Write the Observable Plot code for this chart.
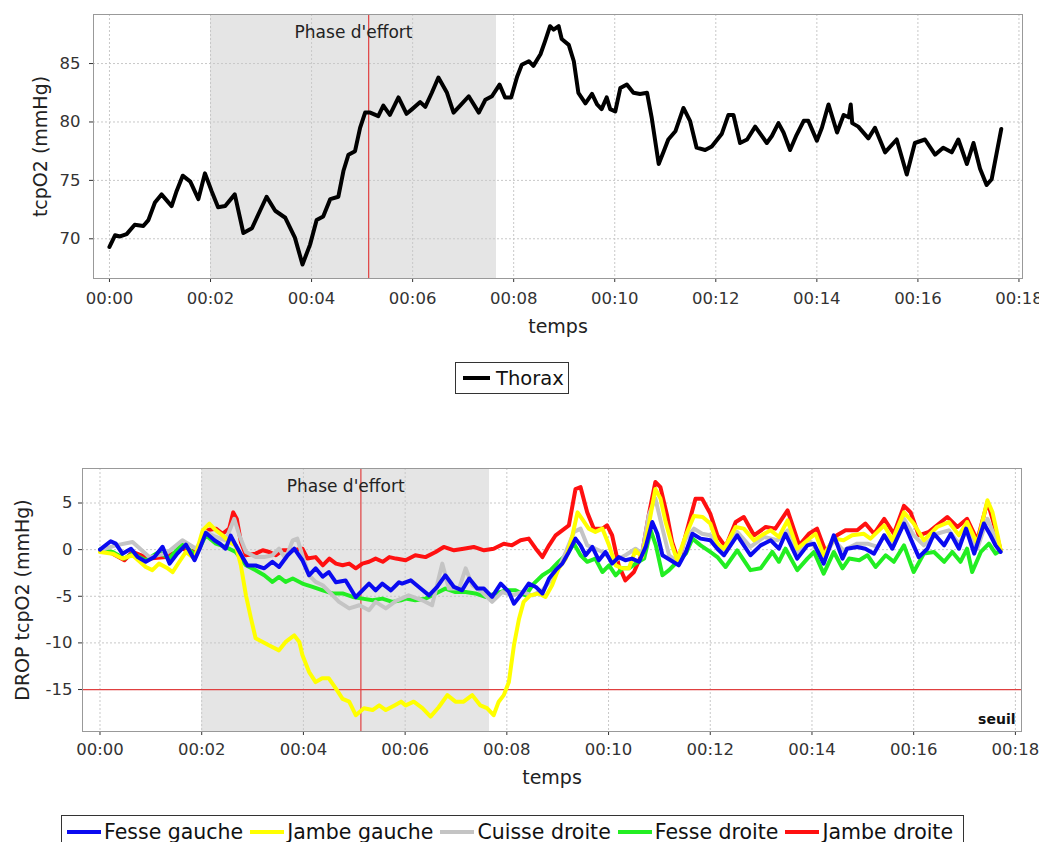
<!DOCTYPE html>
<html>
<head>
<meta charset="utf-8">
<script src="https://cdn.jsdelivr.net/npm/d3@7"></script>
<script src="https://cdn.jsdelivr.net/npm/@observablehq/plot@0.6"></script>
<style>
  html, body { margin: 0; padding: 0; background: #fff; }
  body { width: 1039px; height: 842px; position: relative; overflow: hidden; font-family: "DejaVu Sans", sans-serif; }
  .chart { position: absolute; left: 0; }
  .legend { position: absolute; box-sizing: border-box; border: 1px solid #333; background: #fff;
            display: flex; align-items: center; font-size: 20.5px; color: #111; white-space: nowrap; }
  .legend .item { display: flex; align-items: center; }
  .legend .swatch { display: inline-block; height: 4px; }
</style>
</head>
<body>
<div id="top" class="chart" style="top:0"></div>
<div id="legendTop" class="legend" style="left:455px; top:362px; width:114px; height:32px; padding-left:7px;"></div>
<div id="bottom" class="chart" style="top:455px"></div>
<div id="legendBottom" class="legend" style="left:61px; top:815px; width:903px; height:34px; padding-left:5px;"></div>
<script>
// ---------- shared ----------
const xTicks = [0, 2, 4, 6, 8, 10, 12, 14, 16, 18];
const phase = [{start: 2.0, end: 7.66, label: "Phase d'effort"}];
const effortMark = [5.13];
const xLabel = "temps";

// ---------- top chart ----------
const topYTicks = [70, 75, 80, 85];
const topYLabel = "tcpO2 (mmHg)";
const thoraxName = "Thorax";
const thorax = [[0,69.3],[0.11,70.3],[0.21,70.2],[0.34,70.4],[0.5,71.2],[0.67,71.1],[0.77,71.6],[0.9,73.1],[1.03,73.8],[1.23,72.8],[1.33,74.1],[1.45,75.4],[1.6,74.9],[1.76,73.4],[1.89,75.6],[2.02,74.1],[2.15,72.7],[2.29,72.8],[2.48,73.8],[2.65,70.5],[2.82,70.9],[2.98,72.4],[3.11,73.6],[3.28,72.4],[3.48,71.8],[3.67,70.1],[3.82,67.8],[3.97,69.5],[4.1,71.6],[4.23,71.9],[4.37,73.4],[4.53,73.6],[4.63,75.8],[4.73,77.2],[4.86,77.5],[4.96,79.5],[5.06,80.8],[5.16,80.8],[5.32,80.5],[5.42,81.4],[5.55,80.6],[5.72,82.1],[5.88,80.7],[5.99,81.1],[6.15,81.7],[6.25,81.3],[6.38,82.5],[6.51,83.8],[6.68,82.5],[6.81,80.8],[6.94,81.4],[7.11,82.2],[7.31,80.8],[7.44,81.9],[7.57,82.2],[7.72,83.2],[7.83,82.1],[7.95,82.1],[8.07,83.9],[8.16,84.9],[8.3,85.2],[8.39,84.8],[8.53,85.8],[8.62,86.9],[8.72,88.2],[8.79,87.9],[8.89,88.2],[8.95,87.1],[9.09,86.6],[9.19,85.2],[9.28,82.5],[9.42,81.6],[9.55,82.4],[9.65,81.5],[9.74,81.1],[9.84,82.1],[9.91,81.1],[10.01,80.9],[10.11,82.9],[10.24,83.2],[10.37,82.5],[10.5,82.4],[10.64,82.5],[10.73,80.4],[10.87,76.4],[10.97,77.5],[11.06,78.5],[11.2,79.2],[11.36,81.2],[11.49,80.1],[11.62,77.8],[11.79,77.6],[11.92,77.9],[12.12,79.0],[12.25,80.6],[12.35,80.6],[12.48,78.2],[12.62,78.5],[12.78,79.6],[13.01,78.2],[13.11,78.8],[13.24,79.9],[13.34,79.1],[13.47,77.6],[13.6,78.9],[13.74,80.1],[13.83,80.1],[14.0,78.4],[14.1,79.5],[14.23,81.5],[14.4,79.1],[14.53,80.6],[14.63,80.4],[14.67,81.5],[14.7,79.9],[14.82,79.6],[15.02,78.6],[15.15,79.5],[15.35,77.4],[15.58,78.5],[15.78,75.5],[15.94,78.2],[16.14,78.5],[16.34,77.2],[16.5,77.8],[16.67,77.4],[16.8,78.5],[16.97,76.4],[17.1,78.2],[17.23,76.0],[17.36,74.6],[17.46,75.1],[17.65,79.4]];

// ---------- bottom chart ----------
const bottomYTicks = [-15, -10, -5, 0, 5];
const bottomYLabel = "DROP tcpO2 (mmHg)";
const threshold = [-15];
const thresholdLabel = "seuil";
const seriesNames = ["Fesse gauche", "Jambe gauche", "Cuisse droite", "Fesse droite", "Jambe droite"];
const seriesColors = ["#0a0af0", "#ffff00", "#c4c4c4", "#22ee22", "#ff1010"];

const fesseGauche = [[0,0],[0.21,0.9],[0.31,0.64],[0.44,-0.43],[0.61,0.1],[0.74,-0.8],[0.9,-1.3],[1.07,-0.8],[1.23,0.3],[1.37,-1.5],[1.52,-0.43],[1.69,0.54],[1.86,-1.14],[1.96,0.1],[2.08,1.8],[2.25,1.0],[2.36,0.64],[2.47,0.1],[2.57,1.5],[2.67,0.46],[2.8,-0.8],[2.9,-1.7],[3.06,-1.7],[3.23,-2.0],[3.39,-1.3],[3.52,-1.86],[3.69,-0.6],[3.82,0.1],[3.98,-1.14],[4.11,-2.75],[4.24,-2.0],[4.38,-2.9],[4.5,-2.4],[4.64,-3.5],[4.83,-3.3],[5.03,-5.1],[5.16,-4.36],[5.29,-3.64],[5.42,-4.36],[5.55,-3.64],[5.72,-4.36],[5.88,-3.5],[5.94,-3.64],[6.11,-3.29],[6.27,-4.0],[6.47,-4.9],[6.63,-4.0],[6.79,-2.75],[6.96,-4.0],[7.12,-4.36],[7.26,-3.1],[7.42,-4.18],[7.55,-4.18],[7.71,-5.07],[7.88,-3.64],[8.04,-4.54],[8.14,-5.8],[8.27,-4.9],[8.43,-3.64],[8.57,-4.0],[8.7,-4.7],[8.83,-3.1],[8.96,-2.2],[9.09,-1.5],[9.22,-0.25],[9.35,1.18],[9.45,0.46],[9.55,-0.6],[9.68,0.29],[9.81,-1.14],[9.94,-0.25],[10.07,-1.5],[10.2,-0.8],[10.33,-1.14],[10.46,-0.96],[10.6,-1.3],[10.73,0.29],[10.86,2.96],[10.96,1.7],[11.06,-0.6],[11.22,-1.14],[11.38,-1.68],[11.52,-0.25],[11.65,1.7],[11.81,1.18],[12.0,1.0],[12.14,0.1],[12.27,-0.6],[12.53,1.54],[12.79,-0.6],[12.99,0.46],[13.19,1.0],[13.35,0.1],[13.48,1.7],[13.71,-0.96],[13.91,0.46],[14.04,0.64],[14.23,-1.5],[14.43,1.54],[14.6,-0.96],[14.69,0.1],[14.89,0.29],[15.05,0.1],[15.22,-0.43],[15.42,1.54],[15.58,0.1],[15.81,2.8],[15.94,1.18],[16.1,-0.8],[16.27,0.1],[16.4,1.7],[16.6,0.46],[16.73,1.7],[16.89,0.1],[17.03,2.25],[17.19,-0.43],[17.38,2.8],[17.51,1.54],[17.61,0.46],[17.71,-0.25]];

const jambeGauche = [[0,-0.25],[0.25,-0.43],[0.44,-0.96],[0.64,-0.6],[0.9,-1.86],[1.03,-2.2],[1.16,-1.5],[1.33,-2.0],[1.43,-2.4],[1.56,-1.3],[1.69,-0.25],[1.86,-0.96],[2.02,2.07],[2.15,2.8],[2.28,2.07],[2.41,1.54],[2.54,0.82],[2.67,0.46],[2.77,-1.68],[2.87,-4.9],[2.97,-7.4],[3.06,-9.5],[3.2,-9.9],[3.32,-10.25],[3.52,-10.8],[3.65,-9.9],[3.82,-9.2],[3.92,-9.9],[3.98,-11.3],[4.11,-13.1],[4.24,-14.2],[4.37,-13.8],[4.5,-13.8],[4.64,-14.9],[4.77,-16.0],[4.9,-16.3],[5.03,-17.75],[5.19,-17.0],[5.36,-17.2],[5.49,-16.7],[5.62,-17.2],[5.79,-16.7],[5.92,-16.3],[6.01,-16.7],[6.17,-16.3],[6.34,-17.0],[6.5,-17.9],[6.66,-16.9],[6.83,-15.6],[6.99,-16.3],[7.15,-16.3],[7.32,-15.6],[7.48,-16.7],[7.61,-17.0],[7.74,-17.75],[7.84,-16.3],[7.94,-15.6],[8.04,-14.2],[8.14,-10.25],[8.24,-7.4],[8.33,-5.6],[8.46,-4.9],[8.63,-4.7],[8.76,-5.07],[8.89,-3.82],[9.02,-2.0],[9.16,-0.96],[9.29,1.54],[9.39,4.0],[9.48,3.3],[9.61,2.25],[9.74,1.9],[9.88,2.25],[10.01,0.46],[10.14,-1.68],[10.27,-2.0],[10.4,-2.0],[10.53,-0.07],[10.66,-0.8],[10.79,2.6],[10.92,6.5],[11.02,5.5],[11.12,3.0],[11.25,0.46],[11.35,-1.14],[11.52,1.54],[11.68,3.6],[11.85,3.5],[12.0,2.8],[12.14,0.64],[12.27,0.1],[12.5,2.43],[12.66,2.25],[12.86,1.0],[13.06,1.7],[13.19,2.07],[13.35,1.36],[13.52,3.14],[13.71,0.1],[13.91,1.0],[14.07,1.7],[14.23,-0.6],[14.43,1.18],[14.62,1.0],[14.79,1.54],[15.02,1.7],[15.15,1.18],[15.42,2.6],[15.58,1.0],[15.81,4.0],[16.0,2.8],[16.2,1.0],[16.46,2.43],[16.69,2.96],[16.89,1.54],[17.05,2.96],[17.25,0.64],[17.45,5.3],[17.55,4.0],[17.65,1.54],[17.71,-0.07]];

const cuisseDroite = [[0,-0.07],[0.31,0.46],[0.64,0.82],[0.97,-0.8],[1.3,-0.43],[1.62,1.0],[1.89,0.1],[2.08,1.9],[2.28,1.36],[2.47,1.0],[2.64,3.3],[2.74,1.54],[2.87,-0.25],[3.06,-0.8],[3.23,-0.8],[3.39,-0.6],[3.52,0.1],[3.65,-0.96],[3.79,1.0],[3.88,1.18],[3.98,-0.6],[4.11,-2.75],[4.24,-3.46],[4.38,-3.82],[4.51,-4.54],[4.7,-5.6],[4.9,-6.3],[5.1,-5.96],[5.29,-6.5],[5.42,-5.6],[5.62,-6.3],[5.82,-5.5],[6.07,-4.9],[6.34,-5.43],[6.53,-5.96],[6.73,-1.5],[6.86,-4.18],[7.06,-4.18],[7.19,-2.0],[7.32,-3.82],[7.51,-4.54],[7.71,-5.6],[7.91,-4.54],[8.11,-4.9],[8.3,-4.54],[8.5,-4.9],[8.7,-4.36],[8.89,-3.1],[9.02,-2.0],[9.16,-0.25],[9.32,1.9],[9.45,2.25],[9.58,0.46],[9.74,0.1],[9.88,-0.25],[10.01,-0.8],[10.14,-1.14],[10.33,-0.6],[10.53,0.1],[10.66,-0.43],[10.79,3.7],[10.92,5.5],[11.06,2.25],[11.19,-0.6],[11.35,-1.3],[11.52,1.18],[11.68,2.25],[11.84,1.7],[12.0,1.54],[12.14,0.64],[12.3,-0.25],[12.53,1.9],[12.79,0.29],[13.06,1.36],[13.32,1.0],[13.52,2.07],[13.71,-0.25],[13.94,1.0],[14.23,-0.96],[14.43,1.0],[14.62,-0.07],[14.89,0.64],[15.09,0.64],[15.29,0.29],[15.42,1.54],[15.61,0.46],[15.81,3.3],[16.0,1.54],[16.2,0.46],[16.46,1.7],[16.69,2.07],[16.89,0.64],[17.05,2.07],[17.25,0.1],[17.45,3.3],[17.61,1.18],[17.71,-0.07]];

const fesseDroite = [[0,0],[0.25,-0.25],[0.48,-0.96],[0.64,-0.43],[0.9,-1.14],[1.16,-0.25],[1.36,-0.96],[1.62,0.64],[1.89,-0.6],[2.08,1.54],[2.28,0.64],[2.47,0.29],[2.67,-0.25],[2.87,-1.68],[3.06,-2.2],[3.23,-2.75],[3.39,-3.46],[3.52,-2.93],[3.65,-3.46],[3.79,-3.1],[3.98,-3.64],[4.18,-4.0],[4.38,-4.36],[4.57,-4.7],[4.77,-4.7],[4.97,-5.07],[5.16,-5.25],[5.36,-5.43],[5.55,-5.25],[5.75,-5.6],[5.92,-5.43],[6.01,-5.25],[6.2,-5.43],[6.4,-5.25],[6.6,-4.7],[6.79,-4.18],[6.99,-4.54],[7.19,-4.54],[7.38,-4.7],[7.58,-5.07],[7.78,-4.7],[7.98,-4.36],[8.17,-4.36],[8.37,-4.9],[8.53,-3.64],[8.7,-2.75],[8.86,-2.2],[9.02,-1.3],[9.19,-0.43],[9.32,0.64],[9.45,-0.6],[9.58,-1.3],[9.74,-0.96],[9.88,-2.4],[10.01,-1.68],[10.14,-2.75],[10.27,-2.0],[10.4,-2.0],[10.53,-1.5],[10.7,-0.96],[10.83,2.07],[10.93,0.46],[11.06,-2.75],[11.19,-2.2],[11.35,-1.3],[11.52,-0.43],[11.65,1.18],[11.81,0.46],[12.0,-0.25],[12.14,-0.8],[12.3,-1.86],[12.53,-0.07],[12.79,-2.2],[12.99,-2.0],[13.22,-0.25],[13.35,-1.3],[13.48,0.1],[13.71,-2.2],[13.91,-0.96],[14.04,-0.25],[14.23,-2.57],[14.43,-0.25],[14.6,-2.0],[14.73,-0.96],[14.93,-1.14],[15.09,-0.6],[15.25,-1.86],[15.45,-0.6],[15.61,-1.3],[15.81,0.46],[16.0,-2.4],[16.2,-0.43],[16.4,-0.25],[16.6,-1.3],[16.76,-0.25],[16.92,-1.3],[17.05,0.1],[17.15,-2.4],[17.32,-0.25],[17.48,0.64],[17.61,-0.43],[17.71,-0.07]];

const jambeDroite = [[0,-0.07],[0.25,-0.43],[0.48,-1.14],[0.64,-0.25],[0.97,-0.96],[1.3,-0.8],[1.62,0.1],[1.89,-0.25],[2.08,2.07],[2.28,2.25],[2.41,1.7],[2.54,2.25],[2.62,4.0],[2.69,3.3],[2.77,0.82],[2.87,-0.6],[3.06,-0.43],[3.2,-0.07],[3.33,-0.25],[3.46,-0.6],[3.59,-0.07],[3.79,-0.07],[3.98,0.1],[4.08,-0.96],[4.24,-0.8],[4.38,-1.68],[4.51,-0.96],[4.64,-1.5],[4.77,-1.68],[4.9,-1.5],[5.03,-2.0],[5.16,-1.5],[5.29,-1.3],[5.42,-0.96],[5.56,-1.3],[5.69,-0.8],[5.82,-0.96],[6.01,-1.14],[6.2,-0.6],[6.4,-0.8],[6.6,-0.25],[6.76,0.29],[6.96,-0.07],[7.15,0.1],[7.35,0.29],[7.55,-0.07],[7.74,0.1],[7.94,0.64],[8.1,0.46],[8.27,1.0],[8.43,1.18],[8.57,0.1],[8.7,-0.8],[8.83,0.46],[8.96,1.54],[9.09,2.07],[9.22,2.6],[9.35,6.5],[9.45,6.7],[9.58,4.0],[9.71,2.25],[9.88,2.25],[9.97,2.6],[10.07,1.54],[10.2,-1.68],[10.33,-3.3],[10.5,-2.4],[10.66,-0.43],[10.79,3.7],[10.92,7.25],[11.02,6.7],[11.15,3.7],[11.25,0.82],[11.38,-1.3],[11.55,2.25],[11.71,5.46],[11.84,5.46],[12.0,3.86],[12.14,1.54],[12.3,0.29],[12.5,2.96],[12.66,3.5],[12.86,1.54],[13.09,2.43],[13.28,2.25],[13.52,4.2],[13.75,0.46],[13.94,1.7],[14.1,2.25],[14.27,-0.25],[14.49,1.54],[14.66,2.07],[14.89,2.07],[15.05,2.8],[15.22,1.7],[15.42,3.3],[15.61,1.7],[15.81,4.7],[15.94,4.0],[16.1,1.54],[16.3,1.9],[16.66,3.5],[16.86,2.43],[17.05,3.3],[17.25,1.0],[17.45,5.1],[17.55,3.3],[17.71,-0.07]];

const seriesData = [fesseGauche, jambeGauche, cuisseDroite, fesseDroite, jambeDroite];

// ---------- helpers ----------
const fmtTime = m => "00:" + String(m).padStart(2, "0");
const fmtNum = v => String(v);
const gridStyle = {stroke: "#c8c8c8", strokeDasharray: "2,2", strokeWidth: 1};
const baseStyle = {fontFamily: "'DejaVu Sans', sans-serif", fontSize: "16.5px", color: "#333", background: "transparent"};
const T = d => d[0], V = d => d[1];

// ---------- top plot ----------
const topPlot = Plot.plot({
  width: 1039, height: 345,
  marginLeft: 93, marginRight: 17, marginTop: 14, marginBottom: 67,
  style: baseStyle,
  x: {domain: [-0.316, 18.07], ticks: xTicks, tickFormat: fmtTime, tickSize: 4, tickPadding: 10, label: null},
  y: {domain: [66.6, 89.2], ticks: topYTicks, tickFormat: fmtNum, tickSize: 4, tickPadding: 9, label: null},
  marks: [
    Plot.rect(phase, {x1: "start", x2: "end", fill: "#e5e5e5"}),
    Plot.ruleX(xTicks, gridStyle),
    Plot.ruleY(topYTicks, gridStyle),
    Plot.ruleX(effortMark, {stroke: "#e04040", strokeWidth: 1.2}),
    Plot.text(phase, {x: d => (d.start + d.end) / 2, frameAnchor: "top", text: "label", lineAnchor: "top", dy: 11, fontSize: 17, fill: "#222"}),
    Plot.line(thorax, {x: T, y: V, stroke: "#000", strokeWidth: 4, strokeLinejoin: "round", strokeLinecap: "round"}),
    Plot.frame({stroke: "#999"}),
    Plot.text([xLabel], {text: d => d, frameAnchor: "bottom", textAnchor: "middle", dy: 54, fontSize: 19, fill: "#222"}),
    Plot.text([topYLabel], {text: d => d, frameAnchor: "left", textAnchor: "middle", lineAnchor: "middle", rotate: -90, dx: -53, fontSize: 19, fill: "#222"})
  ]
});
document.getElementById("top").appendChild(topPlot);

// ---------- bottom plot ----------
const drawOrder = [4, 3, 2, 1, 0];
const bottomPlot = Plot.plot({
  width: 1039, height: 340,
  marginLeft: 82, marginRight: 18, marginTop: 13, marginBottom: 64,
  style: baseStyle,
  x: {domain: [-0.344, 18.12], ticks: xTicks, tickFormat: fmtTime, tickSize: 4, tickPadding: 8, label: null},
  y: {domain: [-19.5, 8.7], ticks: bottomYTicks, tickFormat: fmtNum, tickSize: 4, tickPadding: 6, label: null},
  marks: [
    Plot.rect(phase, {x1: "start", x2: "end", fill: "#e5e5e5"}),
    Plot.ruleX(xTicks, gridStyle),
    Plot.ruleY(bottomYTicks, gridStyle),
    Plot.ruleX(effortMark, {stroke: "#e04040", strokeWidth: 1.2}),
    Plot.ruleY(threshold, {stroke: "#e04040", strokeWidth: 1.2}),
    Plot.text(phase, {x: d => (d.start + d.end) / 2, frameAnchor: "top", text: "label", lineAnchor: "top", dy: 11, fontSize: 17, fill: "#222"}),
    ...drawOrder.map(i => Plot.line(seriesData[i], {x: T, y: V, stroke: seriesColors[i], strokeWidth: 4, strokeLinejoin: "round", strokeLinecap: "round"})),
    Plot.text([thresholdLabel], {text: d => d, frameAnchor: "bottom-right", textAnchor: "end", lineAnchor: "bottom", dx: -6, dy: -8, fontSize: 14, fontWeight: "bold", fill: "#111"}),
    Plot.frame({stroke: "#999"}),
    Plot.text([xLabel], {text: d => d, frameAnchor: "bottom", textAnchor: "middle", dy: 52, fontSize: 19, fill: "#222"}),
    Plot.text([bottomYLabel], {text: d => d, frameAnchor: "left", textAnchor: "middle", lineAnchor: "middle", rotate: -90, dx: -60, fontSize: 19, fill: "#222"})
  ]
});
document.getElementById("bottom").appendChild(bottomPlot);

// ---------- legends ----------
function legendItem(name, color, swatchW, gapAfterSwatch, marginLeft) {
  const item = document.createElement("div");
  item.className = "item";
  item.style.marginLeft = marginLeft + "px";
  const sw = document.createElement("span");
  sw.className = "swatch";
  sw.style.width = swatchW + "px";
  sw.style.background = color;
  sw.style.marginRight = gapAfterSwatch + "px";
  const tx = document.createElement("span");
  tx.textContent = name;
  item.appendChild(sw);
  item.appendChild(tx);
  return item;
}
const lt = document.getElementById("legendTop");
lt.style.fontSize = "19.5px";
lt.appendChild(legendItem(thoraxName, "#000", 27, 6, 0));
const lb = document.getElementById("legendBottom");
seriesNames.forEach((n, i) => lb.appendChild(legendItem(n, seriesColors[i], 34, 3, i === 0 ? 0 : 7)));
</script>
</body>
</html>
